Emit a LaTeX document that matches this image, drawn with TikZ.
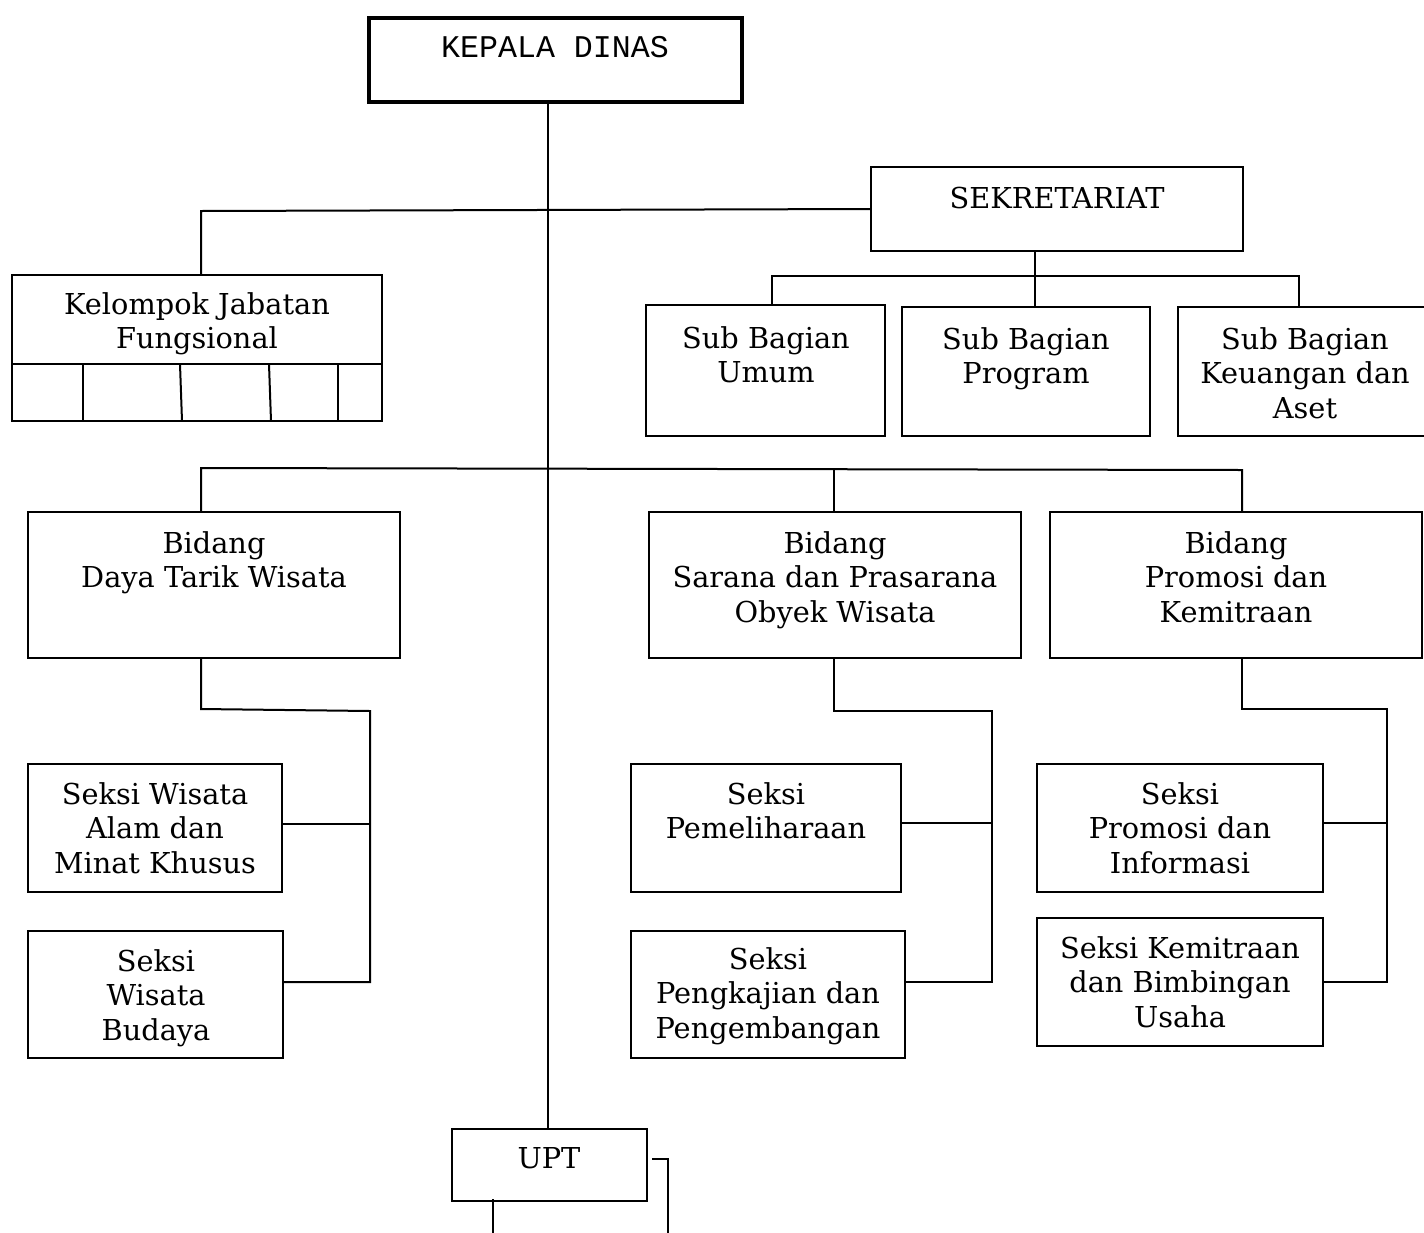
\documentclass[tikz,border=0pt]{standalone}
\usepackage{fontspec}
\setmainfont{DejaVu Serif}
\newfontfamily\monof{Liberation Mono}
\usetikzlibrary{fit}
\newcommand\bx[5]{\node[box, fit={(#2,#3) (#4,#5)}] (#1) {};}
\newcommand\tx[4]{\node[txt, anchor=north] (#1) at (#2,#3) {#4};}
\begin{document}
\begin{tikzpicture}[x=0.5pt,y=-0.5pt,
  box/.style={draw, inner sep=0pt, line width=1pt},
  thickbox/.style={draw, inner sep=0pt, line width=2pt},
  txt/.style={inner sep=0pt, align=center, font=\fontsize{14.4}{17.25}\selectfont},
  mono/.style={inner sep=0pt, font=\monof\fontsize{15.8}{18}\selectfont},
  conn/.style={line width=1pt}]
\useasboundingbox (0,0) rectangle (1424,1232);

% boxes
\node[thickbox, fit={(369,18) (742,102)}] (kd) {};
\node[mono, anchor=north] (kdT) at (555,36) {KEPALA DINAS};

\bx{sek}{871}{167}{1243}{251}
\tx{sekT}{1057}{187}{SEKRETARIAT}

\bx{kjf}{12}{275}{382}{421}
\tx{kjfT}{197}{292}{Kelompok Jabatan\\Fungsional}
\draw[conn] (kjf.west |- 0,364) -- (kjf.east |- 0,364);
\draw[conn] (83,364) -- (83,421);
\draw[conn] (180,364) -- (182,421);
\draw[conn] (269,364) -- (271,421);
\draw[conn] (338,364) -- (338,421);

\bx{sbu}{646}{305}{885}{436}
\tx{sbuT}{766}{326}{Sub Bagian\\Umum}
\bx{sbp}{902}{307}{1150}{436}
\tx{sbpT}{1026}{327}{Sub Bagian\\Program}
\bx{sbk}{1178}{307}{1430}{436}
\tx{sbkT}{1305}{327}{Sub Bagian\\Keuangan dan\\Aset}

\bx{bdt}{28}{512}{400}{658}
\tx{bdtT}{214}{531}{Bidang\\Daya Tarik Wisata}
\bx{bsp}{649}{512}{1021}{658}
\tx{bspT}{835}{531}{Bidang\\Sarana dan Prasarana\\Obyek Wisata}
\bx{bpk}{1050}{512}{1422}{658}
\tx{bpkT}{1236}{531}{Bidang\\Promosi dan\\Kemitraan}

\bx{swa}{28}{764}{282}{892}
\tx{swaT}{155}{782}{Seksi Wisata\\Alam dan\\Minat Khusus}
\bx{swb}{28}{931}{283}{1058}
\tx{swbT}{156}{949}{Seksi\\Wisata\\Budaya}

\bx{spm}{631}{764}{901}{892}
\tx{spmT}{766}{782}{Seksi\\Pemeliharaan}
\bx{spk}{631}{931}{905}{1058}
\tx{spkT}{768}{947}{Seksi\\Pengkajian dan\\Pengembangan}

\bx{spi}{1037}{764}{1323}{892}
\tx{spiT}{1180}{782}{Seksi\\Promosi dan\\Informasi}
\bx{skb}{1037}{918}{1323}{1046}
\tx{skbT}{1180}{936}{Seksi Kemitraan\\dan Bimbingan\\Usaha}

\bx{upt}{452}{1129}{647}{1201}
\tx{uptT}{549}{1147}{UPT}

% connectors
\coordinate (m0) at (548,102);
\draw[conn] (m0 |- kd.south) -- (m0 |- upt.north);

\coordinate (k1) at (201,211);
\draw[conn] (sek.west) -- (k1) -- (k1 |- kjf.north);

\coordinate (s1) at (1035,276);
\coordinate (sL) at (772,276);
\coordinate (sR) at (1299,276);
\draw[conn] (sek.south -| s1) -- (s1) -- (s1 |- sbp.north);
\draw[conn] (sL |- sbu.north) -- (sL) -- (sR) -- (sR |- sbk.north);

\coordinate (bL) at (201,468);
\coordinate (bM) at (834,469);
\coordinate (bR) at (1242,470);
\draw[conn] (bL |- bdt.north) -- (bL) -- (bR) -- (bR |- bpk.north);
\draw[conn] (bM) -- (bM |- bsp.north);

\coordinate (d1) at (201,709);
\coordinate (d2) at (370,711);
\coordinate (d3) at (370,982);
\draw[conn] (d1 |- bdt.south) -- (d1) -- (d2) -- (d3) -- (d3 -| swb.east);
\draw[conn] (swa.east |- 0,824) -- (370,824);

\coordinate (e1) at (834,711);
\coordinate (e2) at (992,711);
\coordinate (e3) at (992,982);
\draw[conn] (e1 |- bsp.south) -- (e1) -- (e2) -- (e3) -- (e3 -| spk.east);
\draw[conn] (spm.east |- 0,823) -- (992,823);

\coordinate (f1) at (1242,709);
\coordinate (f2) at (1387,709);
\coordinate (f3) at (1387,982);
\draw[conn] (f1 |- bpk.south) -- (f1) -- (f2) -- (f3) -- (f3 -| skb.east);
\draw[conn] (spi.east |- 0,823) -- (1387,823);

\coordinate (u1) at (668,1159);
\draw[conn] ([xshift=2pt]upt.east |- u1) -- (u1) -- (u1 |- 0,1240);
\coordinate (u2) at (493,1199);
\draw[conn] (u2) -- (u2 |- 0,1240);
\end{tikzpicture}
\end{document}
